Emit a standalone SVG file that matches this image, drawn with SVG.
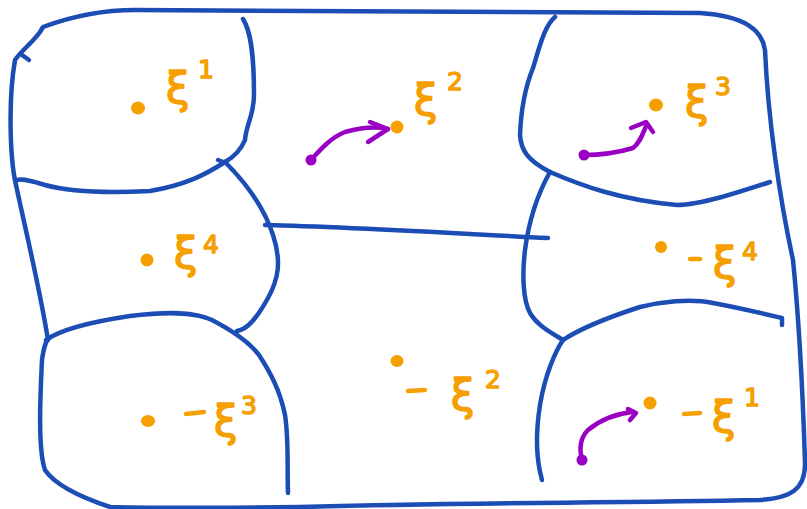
<svg xmlns="http://www.w3.org/2000/svg" width="807" height="509" viewBox="0 0 807 509">
  <style>
    .wall { fill: none; stroke: #1b4db5; stroke-width: 4.5; stroke-linecap: round; stroke-linejoin: round; }
    .flow { fill: none; stroke: #9a00c4; stroke-width: 4.5; stroke-linecap: round; stroke-linejoin: round; }
    .pt { fill: #f5a000; }
    .lbl { fill: #f5a000; stroke: #f5a000; stroke-width: 1.6; stroke-linejoin: round; font-family: "DejaVu Sans", "Liberation Sans", sans-serif; font-size: 42px; }
    .sup { fill: #f5a000; stroke: #f5a000; stroke-width: 1.4; stroke-linejoin: round; font-family: "DejaVu Sans", "Liberation Sans", sans-serif; font-size: 25px; }
    .dash { stroke: #f5a000; stroke-width: 4.5; stroke-linecap: round; }
  </style>

  <rect width="807" height="509" fill="#ffffff"/>

  <!-- outline and cell walls -->
  <g id="walls">
    <path class="wall" d="M43,27 C70,17 100,10 135,10 C300,12 500,12 700,13 C745,16 762,30 765,50 C768,120 780,200 793,260 C800,330 803,400 805,462 C806,490 790,498 760,500 C600,503 450,503 300,507 C200,508 140,508 110,507 C80,497 55,485 45,470 C38,450 40,400 42,360 C44,345 47,340 48,340 C40,290 30,250 16,185 C10,160 8,100 15,60 C22,50 33,42 40,32 Z"/>
    <path class="wall" d="M22,55 L29,60"/>
    <!-- top-left cell -->
    <path class="wall" d="M243,19 C250,30 254,50 254,95 C254,115 246,125 245,140 C240,152 232,158 225,162 C205,175 185,185 150,191 C110,193 70,192 45,185 C30,180 20,179 17,180"/>
    <path class="wall" d="M218,160 L226,163"/>
    <!-- left-middle cell -->
    <path class="wall" d="M225,162 C248,185 265,210 273,235 C282,262 278,280 268,298 C258,316 248,330 237,331"/>
    <path class="wall" d="M265,225 C350,227 450,233 548,238"/>
    <!-- bottom-left cell -->
    <path class="wall" d="M46,340 C60,330 90,322 130,316 C170,311 195,312 212,320 C235,332 250,343 259,355 C270,372 280,390 285,415 C289,440 287,470 288,493"/>
    <!-- top-right cell -->
    <path class="wall" d="M555,17 C545,25 540,45 533,68 C524,90 521,110 520,135 C521,150 527,160 550,172 C580,185 620,200 677,205 C700,205 740,192 770,182"/>
    <!-- right-middle cell -->
    <path class="wall" d="M550,172 C537,195 529,220 525,250 C522,275 523,300 530,313 C537,325 550,332 563,340"/>
    <!-- bottom-right cell -->
    <path class="wall" d="M563,340 C578,330 600,320 640,307 C660,302 690,298 713,303 C740,308 765,314 782,318 L782,325"/>
    <path class="wall" d="M563,340 C555,352 545,375 540,405 C536,430 535,455 542,480"/>
  </g>

  <!-- purple motion arrows -->
  <g id="arrows">
    <path class="flow" d="M311,160 C320,150 330,138 345,132 C360,128 375,126 388,129"/>
    <path class="flow" d="M370,122 L388,129 L368,142"/>
    <circle cx="311" cy="160" r="5.5" fill="#9a00c4"/>
    <path class="flow" d="M583,155 C600,155 620,152 633,148 C640,143 643,133 647,124"/>
    <path class="flow" d="M631,128 L646,122 L653,132"/>
    <circle cx="584" cy="155" r="5.5" fill="#9a00c4"/>
    <path class="flow" d="M582,460 C579,448 580,438 588,430 C600,420 615,414 632,412"/>
    <path class="flow" d="M628,409 L636,413 L630,420"/>
    <circle cx="582" cy="460" r="5.5" fill="#9a00c4"/>
  </g>

  <!-- labelled points -->
  <g id="xi1">
    <ellipse class="pt" cx="138" cy="108" rx="7" ry="6.5"/>
    <text class="lbl" x="166" y="103">ξ</text>
    <text class="sup" x="198" y="78">1</text>
  </g>
  <g id="xi2">
    <ellipse class="pt" cx="397" cy="127" rx="6.5" ry="6.5"/>
    <text class="lbl" x="414" y="115">ξ</text>
    <text class="sup" x="447" y="90">2</text>
  </g>
  <g id="xi3">
    <ellipse class="pt" cx="656" cy="105" rx="7" ry="6.5"/>
    <text class="lbl" x="685" y="117">ξ</text>
    <text class="sup" x="715" y="95">3</text>
  </g>
  <g id="xi4">
    <ellipse class="pt" cx="147" cy="260" rx="6.5" ry="6.5"/>
    <text class="lbl" x="174" y="268">ξ</text>
    <text class="sup" x="203" y="253">4</text>
  </g>
  <g id="neg-xi4">
    <ellipse class="pt" cx="661" cy="247" rx="6" ry="6"/>
    <line class="dash" x1="690" y1="259" x2="700" y2="259"/>
    <text class="lbl" x="713" y="278">ξ</text>
    <text class="sup" x="742" y="260">4</text>
  </g>
  <g id="neg-xi2">
    <ellipse class="pt" cx="397" cy="361" rx="6.5" ry="6"/>
    <line class="dash" x1="408" y1="391" x2="425" y2="390"/>
    <text class="lbl" x="451" y="410">ξ</text>
    <text class="sup" x="485" y="388">2</text>
  </g>
  <g id="neg-xi3">
    <ellipse class="pt" cx="148" cy="421" rx="7" ry="6"/>
    <line class="dash" x1="186" y1="414" x2="204" y2="412"/>
    <text class="lbl" x="214" y="436">ξ</text>
    <text class="sup" x="241" y="414">3</text>
  </g>
  <g id="neg-xi1">
    <ellipse class="pt" cx="650" cy="403" rx="6.5" ry="6.5"/>
    <line class="dash" x1="684" y1="414" x2="700" y2="413"/>
    <text class="lbl" x="712" y="432">ξ</text>
    <text class="sup" x="744" y="406">1</text>
  </g>
</svg>
